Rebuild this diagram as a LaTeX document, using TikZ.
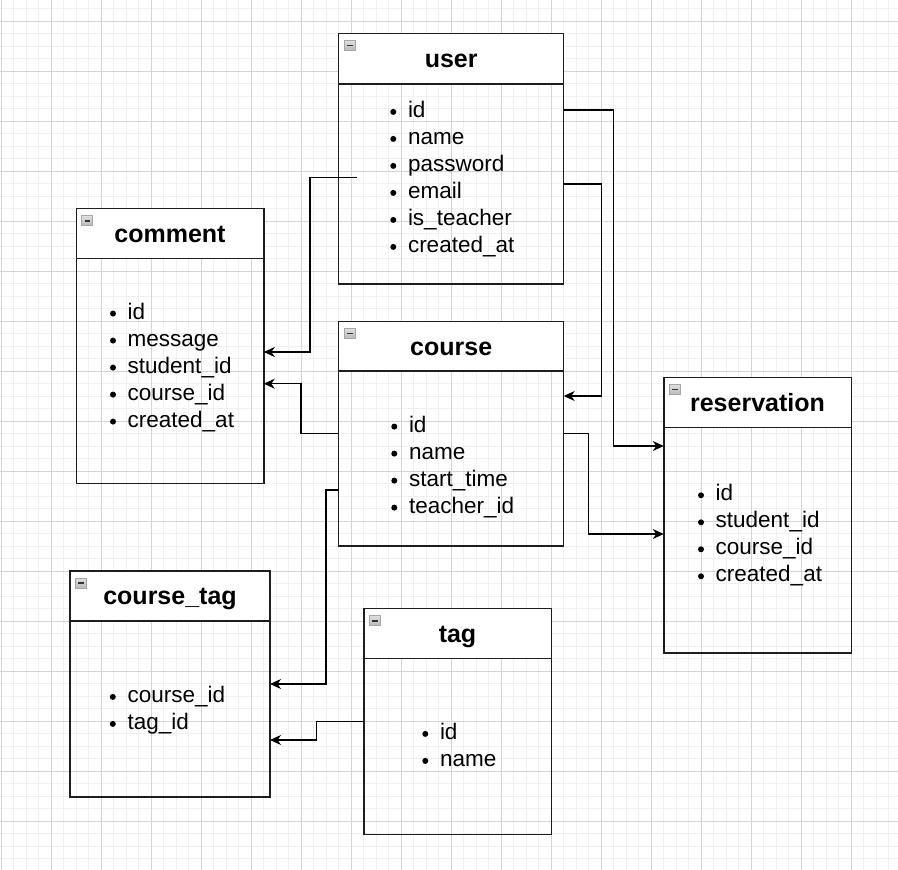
\documentclass[tikz,border=0pt]{standalone}
\usepackage{fontspec}
\setmainfont{Liberation Sans}
\usetikzlibrary{arrows.meta}
\definecolor{gminor}{RGB}{240,240,240}
\definecolor{gmajor}{RGB}{212,212,212}
\definecolor{boxline}{RGB}{30,30,30}
\tikzset{
  hdr/.style={draw=boxline, line width=1.4pt, fill=white, inner sep=0pt, outer sep=0pt, anchor=north west},
  bodyb/.style={draw=boxline, line width=1.4pt, inner sep=0pt, outer sep=0pt, anchor=north west},
  ttl/.style={anchor=base, inner sep=0pt, font=\fontsize{25}{30}\selectfont\bfseries},
  itm/.style={anchor=base west, inner sep=0pt, font=\fontsize{22.5}{27}\selectfont},
  conn/.style={draw=black, line width=1.3pt, -{Stealth[length=11pt,width=10pt,inset=3.5pt]}},
}
\newcommand\erlist[4]{%
  \foreach \t [count=\k] in {#4} {
    \node[itm] (#1\k) at ({#2-1.2}, {#3+27*(\k-1)}) {\t};
    \fill ({#2-15.7}, {#3+27*(\k-1)-5.4}) circle (3);
  }}
\newcommand\minusicon[2]{%
  \shade[top color=gray!25, bottom color=gray!55, draw=gray!70, line width=0.7pt] ({#1+5.5},{#2+7}) rectangle ++(11,10);
  \draw[black!80, line width=1.7pt] ({#1+8.2},{#2+12}) -- ++(5.6,0);}
\begin{document}
\begin{tikzpicture}[x=1pt,y=-1pt]
\useasboundingbox (0,0) rectangle (898,870);
\fill[white] (0,0) rectangle (898,870);
% grid
\foreach \i in {0,...,71} {\draw[gminor, line width=1pt] ({1.3+12.5*\i},0) -- ({1.3+12.5*\i},870);}
\foreach \i in {0,...,69} {\draw[gminor, line width=1pt] (0,{8.5+12.5*\i}) -- (898,{8.5+12.5*\i});}
\foreach \i in {0,...,17} {\draw[gmajor, line width=1pt] ({1.3+50*\i},0) -- ({1.3+50*\i},870);}
\foreach \i in {0,...,16} {\draw[gmajor, line width=1pt] (0,{21+50*\i}) -- (898,{21+50*\i});}

% user
\node[hdr, minimum width=225pt, minimum height=50.5pt] (usrH) at (338.7,33.5) {};
\node[bodyb, minimum width=225pt, minimum height=200pt] (usrB) at (338.7,84) {};
\minusicon{338.7}{33.5}
\node[ttl] (usrT) at (451.2,67.7) {user};
\erlist{usrI}{409}{117.3}{id,name,password,email,is\_teacher,created\_at}

% comment
\node[hdr, minimum width=187.5pt, minimum height=50pt] (cmtH) at (76.3,208.7) {};
\node[bodyb, minimum width=187.5pt, minimum height=225pt] (cmtB) at (76.3,258.7) {};
\minusicon{76.3}{208.7}
\node[ttl] (cmtT) at (170,242.7) {comment};
\erlist{cmtI}{128.7}{319}{id,message,student\_id,course\_id,created\_at}

% course
\node[hdr, minimum width=225pt, minimum height=49.5pt] (crsH) at (338.7,321.5) {};
\node[bodyb, minimum width=225pt, minimum height=175pt] (crsB) at (338.7,371) {};
\minusicon{338.7}{321.5}
\node[ttl] (crsT) at (451.2,355) {course};
\erlist{crsI}{410}{432}{id,name,start\_time,teacher\_id}

% reservation
\node[hdr, minimum width=187.5pt, minimum height=50pt] (resH) at (663.8,377.5) {};
\node[bodyb, minimum width=187.5pt, minimum height=225.5pt] (resB) at (663.8,427.5) {};
\minusicon{663.8}{377.5}
\node[ttl] (resT) at (757.5,411.7) {reservation};
\erlist{resI}{716.7}{500.7}{id,student\_id,course\_id,created\_at}

% course_tag
\node[hdr, minimum width=200pt, minimum height=50pt] (ctH) at (70,571) {};
\node[bodyb, minimum width=200pt, minimum height=176pt] (ctB) at (70,621) {};
\minusicon{70}{571}
\node[ttl] (ctT) at (170,604.7) {course\_tag};
\erlist{ctI}{128.5}{702.3}{course\_id,tag\_id}

% tag
\node[hdr, minimum width=187.5pt, minimum height=50pt] (tagH) at (363.8,608.7) {};
\node[bodyb, minimum width=187.5pt, minimum height=175.5pt] (tagB) at (363.8,658.7) {};
\minusicon{363.8}{608.7}
\node[ttl] (tagT) at (457.5,642.5) {tag};
\erlist{tagI}{441}{739.3}{id,name}

% connectors
\coordinate (uPw) at (357,177.5);
\draw[conn] (uPw) -| (310,352) -- (cmtB.east |- 0,352);
\draw[conn] (crsB.west |- 0,433.6) -| (301,383.7) -- (cmtB.east |- 0,383.7);
\draw[conn] (usrB.east |- 0,110) -| (613.3,446) -- (resB.west |- 0,446);
\draw[conn] (usrB.east |- 0,184) -| (601.3,396) -- (crsB.east |- 0,396);
\draw[conn] (crsB.east |- 0,433.4) -| (588.6,534) -- (resB.west |- 0,534);
\draw[conn] (crsB.west |- 0,490) -| (326,684) -- (ctB.east |- 0,684);
\draw[conn] (tagB.west |- 0,721.6) -| (316.8,740) -- (ctB.east |- 0,740);
\end{tikzpicture}
\end{document}
